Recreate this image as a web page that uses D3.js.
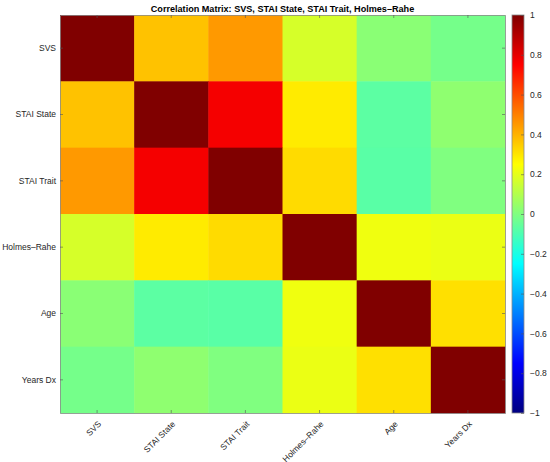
<!DOCTYPE html>
<html>
<head>
<meta charset="utf-8">
<script src="https://cdn.jsdelivr.net/npm/d3@7"></script>
<style>
  body { margin: 0; background: #fff; }
  svg { display: block; font-family: 'Liberation Sans', Arial, sans-serif; }
  .tick text { fill: #262626; }
  .title { font-weight: bold; font-size: 9.1px; fill: #000; }
</style>
</head>
<body>
<svg width="550" height="462"></svg>
<script>
const variables = ['SVS', 'STAI State', 'STAI Trait', 'Holmes–Rahe', 'Age', 'Years Dx'];

const svsRow       = [ 1.00,  0.37,  0.45,  0.17,  0.02, -0.02];
const staiStateRow = [ 0.37,  1.00,  0.77,  0.29, -0.07,  0.03];
const staiTraitRow = [ 0.45,  0.77,  1.00,  0.32, -0.075, 0.00];
const holmesRow    = [ 0.17,  0.29,  0.32,  1.00,  0.22,  0.21];
const ageRow       = [ 0.02, -0.07, -0.075, 0.22,  1.00,  0.31];
const yearsDxRow   = [-0.02,  0.03,  0.00,  0.21,  0.31,  1.00];

const colorbarTicks = [-1, -0.8, -0.6, -0.4, -0.2, 0, 0.2, 0.4, 0.6, 0.8, 1];

const title = 'Correlation Matrix: SVS, STAI State, STAI Trait, Holmes–Rahe';

const rows = [svsRow, staiStateRow, staiTraitRow, holmesRow, ageRow, yearsDxRow];

const svg = d3.select('svg');

const plot = { left: 60, right: 505, top: 15, bottom: 413 };
const bar = { left: 512, right: 524 };

// MATLAB jet colormap
const clamp = v => Math.max(0, Math.min(1, v));
const jet = t => {
  const r = clamp(1.5 - Math.abs(4 * t - 3));
  const g = clamp(1.5 - Math.abs(4 * t - 2));
  const b = clamp(1.5 - Math.abs(4 * t - 1));
  return d3.rgb(r * 255, g * 255, b * 255).formatHex();
};

const colorScale = d3.scaleSequential(jet).domain([-1, 1]);

const xScale = d3.scaleBand()
  .domain(variables)
  .range([plot.left, plot.right]);

const yScale = d3.scaleBand()
  .domain(variables)
  .range([plot.top, plot.bottom]);

const cells = [];
rows.forEach((row, i) => {
  row.forEach((value, j) => {
    cells.push({ row: variables[i], col: variables[j], value });
  });
});

svg.append('g')
  .selectAll('rect')
  .data(cells)
  .enter().append('rect')
    .attr('x', d => xScale(d.col))
    .attr('y', d => yScale(d.row))
    .attr('width', xScale.bandwidth() + 0.5)
    .attr('height', yScale.bandwidth() + 0.5)
    .attr('fill', d => colorScale(d.value));

// axes: ticks pointing inward, box all round
const tickLen = 3;
const styleAxis = g => {
  g.select('.domain').attr('stroke', '#8a8a8a').attr('stroke-width', 0.8);
  g.selectAll('.tick line').attr('stroke', '#555').attr('stroke-width', 0.6);
  g.selectAll('.tick text').attr('font-size', 8.5);
};

svg.append('g')
  .attr('transform', `translate(${plot.left},0)`)
  .call(d3.axisLeft(yScale).tickSizeInner(-tickLen).tickSizeOuter(0).tickPadding(4))
  .call(styleAxis);

svg.append('g')
  .attr('transform', `translate(${plot.right},0)`)
  .call(d3.axisRight(yScale).tickSizeInner(-tickLen).tickSizeOuter(0).tickFormat(''))
  .call(styleAxis);

svg.append('g')
  .attr('transform', `translate(0,${plot.top})`)
  .call(d3.axisTop(xScale).tickSizeInner(-tickLen).tickSizeOuter(0).tickFormat(''))
  .call(styleAxis);

const xAxisG = svg.append('g')
  .attr('transform', `translate(0,${plot.bottom})`)
  .call(d3.axisBottom(xScale).tickSizeInner(-tickLen).tickSizeOuter(0))
  .call(styleAxis);

xAxisG.selectAll('.tick text')
  .attr('text-anchor', 'end')
  .attr('dy', null)
  .attr('y', 0)
  .attr('transform', 'translate(3,10) rotate(-45)')
  .attr('dominant-baseline', 'middle');

svg.append('text')
  .attr('class', 'title')
  .attr('x', (plot.left + plot.right) / 2)
  .attr('y', 12)
  .attr('text-anchor', 'middle')
  .text(title);

// colorbar
const barScale = d3.scaleLinear()
  .domain([-1, 1])
  .range([plot.bottom, plot.top]);

const defs = svg.append('defs');
const grad = defs.append('linearGradient')
  .attr('id', 'jet-grad')
  .attr('x1', 0).attr('y1', 1)
  .attr('x2', 0).attr('y2', 0);

grad.selectAll('stop')
  .data(d3.range(0, 1.0001, 1 / 32))
  .enter().append('stop')
    .attr('offset', t => t)
    .attr('stop-color', t => jet(t));

svg.append('rect')
  .attr('x', bar.left)
  .attr('y', plot.top)
  .attr('width', bar.right - bar.left)
  .attr('height', plot.bottom - plot.top)
  .attr('fill', 'url(#jet-grad)')
  .attr('stroke', '#8a8a8a')
  .attr('stroke-width', 0.8);

const barAxis = d3.axisRight(barScale)
  .tickValues(colorbarTicks)
  .tickFormat(d => d3.format('')(d).replace('-', '\u2212'))
  .tickSizeInner(-tickLen)
  .tickSizeOuter(0)
  .tickPadding(6);

svg.append('g')
  .attr('transform', `translate(${bar.right},0)`)
  .call(barAxis)
  .call(g => {
    g.select('.domain').remove();
    g.selectAll('.tick line').attr('stroke', '#555').attr('stroke-width', 0.6);
    g.selectAll('.tick text').attr('font-size', 8.5);
  });
</script>
</body>
</html>
